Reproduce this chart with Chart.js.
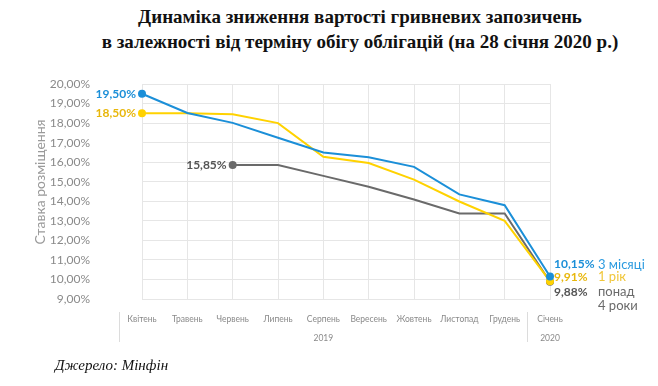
<!DOCTYPE html>
<html>
<head>
<meta charset="utf-8">
<script src="https://cdn.jsdelivr.net/npm/chart.js@4"></script>
<style>
  body { margin: 0; background: #fff; width: 658px; height: 386px; position: relative; overflow: hidden; }
  #title { position: absolute; left: 60px; width: 600px; top: 4px; text-align: center;
           font: bold 19px "Liberation Serif", "Times New Roman", serif; line-height: 25px; color: #111; }
  #source { position: absolute; left: 55px; top: 357px; font: italic 15px "Liberation Serif", serif; color: #111; }
  canvas { position: absolute; left: 0; top: 0; }
</style>
</head>
<body>
<div id="title">Динаміка зниження вартості гривневих запозичень<br>в залежності від терміну обігу облігацій (на 28 січня 2020 р.)</div>
<canvas id="chart" width="658" height="386"></canvas>
<div id="source">Джерело: Мінфін</div>
<script>
const months = ['Квітень', 'Травень', 'Червень', 'Липень', 'Серпень', 'Вересень', 'Жовтень', 'Листопад', 'Грудень', 'Січень'];
const yearLabels = ['2019', '2020'];
const yearSpans = [9, 1];

const rate3m = [19.50, 18.52, 18.01, 17.25, 16.50, 16.25, 15.76, 14.35, 13.80, 10.15];
const rate1y = [18.50, 18.50, 18.45, 18.00, 16.28, 15.96, 15.11, 13.99, 13.00, 9.91];
const rate4y = [null, null, 15.85, 15.85, 15.30, 14.74, 14.09, 13.38, 13.38, 9.88];
const seriesNames = [['3 місяці'], ['1 рік'], ['понад', '4 роки']];

const lineColors = ['#1b8fd8', '#ffd200', '#6a6a6a'];
const labelColors = ['#1b8fd8', '#e8b70c', '#555555'];
const nameColors = ['#2c9be0', '#f0c63a', '#6a6a6a'];
const endOffsets = [-12, -4, 10];

const fmt = v => v.toFixed(2).replace('.', ',') + '%';
const firstIdx = arr => arr.findIndex(v => v !== null);

// підписи на початку і в кінці ліній + легенда справа
const labelsPlugin = {
  id: 'labels',
  afterDatasetsDraw(chart) {
    const ctx = chart.ctx;
    ctx.save();
    ctx.textBaseline = 'middle';
    chart.data.datasets.forEach((ds, i) => {
      const meta = chart.getDatasetMeta(i);
      const f = firstIdx(ds.data);
      const l = ds.data.length - 1;
      const p0 = meta.data[f], p1 = meta.data[l];
      ctx.font = 'bold 12px Lato, sans-serif';
      ctx.fillStyle = labelColors[i];
      ctx.textAlign = 'right';
      ctx.fillText(fmt(ds.data[f]), p0.x - 6, p0.y);
      ctx.textAlign = 'left';
      const ey = p1.y + endOffsets[i];
      ctx.fillText(fmt(ds.data[l]), p1.x + 4, ey);
      ctx.font = '13px Lato, sans-serif';
      ctx.fillStyle = nameColors[i];
      seriesNames[i].forEach((t, k) => ctx.fillText(t, p1.x + 48, ey + k * 14));
    });
    // підпис осі Y
    ctx.translate(40, 182);
    ctx.rotate(-Math.PI / 2);
    ctx.textAlign = 'center';
    ctx.font = '14px Lato, sans-serif';
    ctx.fillStyle = '#9a9a9a';
    ctx.fillText('Ставка розміщення', 0, 0);
    ctx.restore();
  }
};

// роки під місяцями, як у Excel
const yearsPlugin = {
  id: 'years',
  afterDraw(chart) {
    const ctx = chart.ctx;
    const x = chart.scales.x;
    const step = x.getPixelForValue(1) - x.getPixelForValue(0);
    ctx.save();
    ctx.strokeStyle = '#dcdcdc';
    ctx.lineWidth = 1;
    ctx.fillStyle = '#8a8a8a';
    ctx.font = '8.5px Lato, sans-serif';
    ctx.textAlign = 'center';
    ctx.textBaseline = 'middle';
    let start = 0;
    yearLabels.forEach((y, i) => {
      const end = start + yearSpans[i] - 1;
      const left = Math.round(x.getPixelForValue(start) - step / 2) + 0.5;
      ctx.beginPath();
      ctx.moveTo(left, 312);
      ctx.lineTo(left, 342);
      ctx.stroke();
      const cx = (x.getPixelForValue(start) + x.getPixelForValue(end)) / 2;
      ctx.fillText(y, cx, 338);
      start = end + 1;
    });
    ctx.restore();
  }
};

const mkSet = (label, data, i) => ({
  label, data,
  borderColor: lineColors[i],
  backgroundColor: lineColors[i],
  borderWidth: 2,
  tension: 0,
  spanGaps: false,
  pointRadius: c => (c.dataIndex === firstIdx(data) || c.dataIndex === data.length - 1) ? 3 : 0,
  pointHoverRadius: 0
});

new Chart(document.getElementById('chart'), {
  type: 'line',
  data: {
    labels: months,
    datasets: [
      mkSet('3 місяці', rate3m, 0),
      mkSet('1 рік', rate1y, 1),
      mkSet('понад 4 роки', rate4y, 2)
    ]
  },
  options: {
    responsive: false,
    animation: false,
    layout: { padding: { left: 0, right: 108, top: 84, bottom: 0 } },
    plugins: { legend: { display: false }, tooltip: { enabled: false } },
    scales: {
      x: {
        offset: false,
        grid: { color: '#e6e6e6', drawTicks: false },
        border: { color: '#e6e6e6' },
        ticks: { color: '#8a8a8a', font: { family: 'Lato', size: 8.5 }, padding: 15, maxRotation: 0, autoSkip: false },
        afterFit: s => { s.height = 87; }
      },
      y: {
        min: 9, max: 20,
        grid: { color: '#e6e6e6', drawTicks: false },
        border: { color: '#e6e6e6' },
        ticks: { stepSize: 1, color: '#8a8a8a', font: { family: 'Lato', size: 12 }, padding: 52,
                 callback: v => fmt(v) },
        afterFit: s => { s.width = 142; }
      }
    }
  },
  plugins: [labelsPlugin, yearsPlugin]
});
</script>
</body>
</html>
